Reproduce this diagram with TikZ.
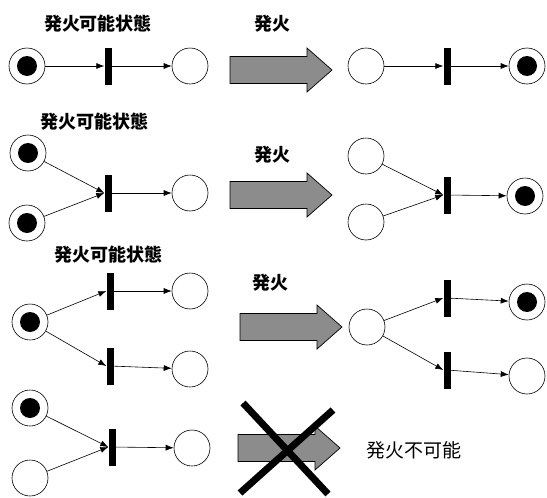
\documentclass[tikz,border=0pt]{standalone}
\usepackage{fontspec}
\newfontfamily\jp{Noto Sans CJK JP}
\usetikzlibrary{arrows.meta}
\tikzset{
  place/.style={circle,draw,line width=0.6pt,minimum size=36pt,inner sep=0pt},
  marked/.style={place,path picture={\fill (path picture bounding box.center) circle[radius=10pt];}},
  trans/.style={rectangle,fill=black,minimum width=7pt,minimum height=37pt,inner sep=0pt},
  arc/.style={-{Latex[length=8pt,width=6pt]},line width=0.6pt},
  heading/.style={font=\jp\bfseries\fontsize{18}{20}\selectfont,inner sep=0pt},
  note/.style={font=\jp\fontsize{19}{21}\selectfont,inner sep=0pt},
  firearrow/.pic={
    \draw[line width=0.7pt,fill=black!45]
      (0,-13.5) -- (77,-13.5) -- (77,-22) -- (102,0) -- (77,22) -- (77,13.5) -- (0,13.5) -- cycle;
  }
}
\begin{document}
\begin{tikzpicture}[x=1pt,y=-1pt]
\useasboundingbox (0,0) rectangle (547,498);

% ---- single input, single output ----
\node[heading] (h1) at (98,24) {発火可能状態};
\node[heading] (f1) at (272,24) {発火};
\node[marked] (a1) at (27,66) {};
\node[trans]  (t1) at (108,66) {};
\node[place]  (b1) at (190,66) {};
\draw[arc] (a1) -- (t1);
\draw[arc] (t1) -- (b1);
\pic at (230,70) {firearrow};
\node[place]  (c1) at (366,66) {};
\node[trans]  (u1) at (447,66) {};
\node[marked] (d1) at (527,66) {};
\draw[arc] (c1) -- (u1);
\draw[arc] (u1) -- (d1);

% ---- two inputs, one output ----
\node[heading] (h2) at (95,122) {発火可能状態};
\node[heading] (f2) at (272,155) {発火};
\node[marked] (a2) at (28,153) {};
\node[marked] (a2b) at (27,223) {};
\node[trans]  (t2) at (108,193) {};
\node[place]  (b2) at (190,193) {};
\draw[arc] (a2) -- (t2.west);
\draw[arc] (a2b) -- (t2.west);
\draw[arc] (t2) -- (b2);
\pic at (230,195) {firearrow};
\node[place]  (c2) at (366,156) {};
\node[place]  (c2b) at (366,222) {};
\node[trans]  (u2) at (447,195) {};
\node[marked] (d2) at (525,196) {};
\draw[arc] (c2) -- (u2.west);
\draw[arc] (c2b) -- (u2.west);
\draw[arc] (u2) -- (d2);

% ---- conflict: one input, two transitions ----
\node[heading] (h3) at (108,255) {発火可能状態};
\node[heading] (f3) at (270,283) {発火};
\node[marked] (a3) at (30,322) {};
\node[trans]  (t3) at (110,291) {};
\node[trans]  (t3b) at (110,366) {};
\node[place]  (b3) at (190,291) {};
\node[place]  (b3b) at (190,369) {};
\draw[arc] (a3) -- (t3.west);
\draw[arc] (a3) -- (t3b.west);
\draw[arc] (t3) -- (b3);
\draw[arc] (t3b) -- (b3b);
\pic at (240,327) {firearrow};
\node[place]  (c3) at (367,327) {};
\node[trans]  (u3) at (447,298) {};
\node[trans]  (u3b) at (447,370) {};
\node[marked] (d3) at (527,302) {};
\node[place]  (d3b) at (527,376) {};
\draw[arc] (c3) -- (u3.west);
\draw[arc] (c3) -- (u3b.west);
\draw[arc] (u3) -- (d3);
\draw[arc] (u3b) -- (d3b);

% ---- not enabled ----
\node[marked] (a4) at (30,408) {};
\node[place]  (a4b) at (30,478) {};
\node[trans]  (t4) at (112,447) {};
\node[place]  (b4) at (192,448) {};
\draw[arc] (a4) -- (t4.west);
\draw[arc] (a4b) -- (t4.west);
\draw[arc] (t4) -- (b4);
\pic at (238,448) {firearrow};
\draw[line width=7pt] (243,403) -- (328,494);
\draw[line width=7pt] (333,410) -- (240,493);
\node[note] (n4) at (414,450) {発火不可能};
\end{tikzpicture}
\end{document}
